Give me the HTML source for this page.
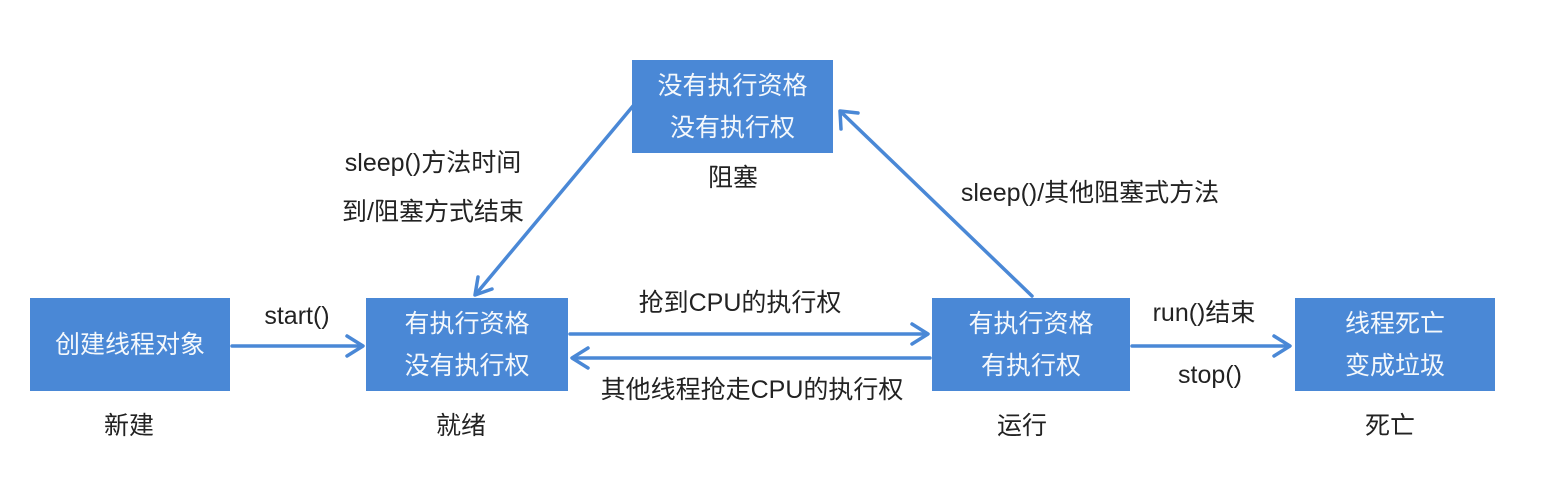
<!DOCTYPE html>
<html><head><meta charset="utf-8"><style>
body{margin:0;width:1554px;height:493px;background:#fff;overflow:hidden;position:relative;font-family:"Liberation Sans","Noto Sans CJK SC",sans-serif;}
.b{position:absolute;background:#4a88d6;color:#f4f8fc;font-size:25px;display:flex;flex-direction:column;justify-content:center;align-items:center;line-height:42px;}
.t{position:absolute;font-size:25px;color:#222;white-space:nowrap;transform:translateX(-50%);line-height:28px;}
svg{position:absolute;left:0;top:0}
</style></head><body>
<svg width="1554" height="493">
<g stroke="#4a88d6" stroke-width="3.5" fill="none" stroke-linecap="round" stroke-linejoin="round">
<line x1="232" y1="346" x2="362" y2="346"/><polyline points="347,336 363,346 347,356"/>
<line x1="570" y1="334" x2="927" y2="334"/><polyline points="912,324 928,334 912,344"/>
<line x1="930" y1="358" x2="573" y2="358"/><polyline points="588,348 572,358 588,368"/>
<line x1="1132" y1="346" x2="1289" y2="346"/><polyline points="1274,336 1290,346 1274,356"/>
<line x1="633" y1="106" x2="476" y2="294"/><polyline points="478,277 475,295 492,289"/>
<line x1="1032" y1="296" x2="841" y2="112"/><polyline points="841,129 840,111 858,113"/>
</g></svg>
<div class="b" style="left:30px;top:298px;width:200px;height:93px">创建线程对象</div>
<div class="b" style="left:366px;top:298px;width:202px;height:93px"><div>有执行资格</div><div>没有执行权</div></div>
<div class="b" style="left:932px;top:298px;width:198px;height:93px"><div>有执行资格</div><div>有执行权</div></div>
<div class="b" style="left:1295px;top:298px;width:200px;height:93px"><div>线程死亡</div><div>变成垃圾</div></div>
<div class="b" style="left:632px;top:60px;width:201px;height:93px"><div>没有执行资格</div><div>没有执行权</div></div>
<div class="t" style="left:297px;top:302px">start()</div>
<div class="t" style="left:740px;top:289px">抢到CPU的执行权</div>
<div class="t" style="left:752px;top:376px">其他线程抢走CPU的执行权</div>
<div class="t" style="left:1204px;top:299px">run()结束</div>
<div class="t" style="left:1210px;top:361px">stop()</div>
<div class="t" style="left:433px;top:149px">sleep()方法时间</div>
<div class="t" style="left:433px;top:198px">到/阻塞方式结束</div>
<div class="t" style="left:1090px;top:179px">sleep()/其他阻塞式方法</div>
<div class="t" style="left:733px;top:164px">阻塞</div>
<div class="t" style="left:129px;top:412px">新建</div>
<div class="t" style="left:461px;top:412px">就绪</div>
<div class="t" style="left:1022px;top:412px">运行</div>
<div class="t" style="left:1390px;top:412px">死亡</div>
</body></html>
